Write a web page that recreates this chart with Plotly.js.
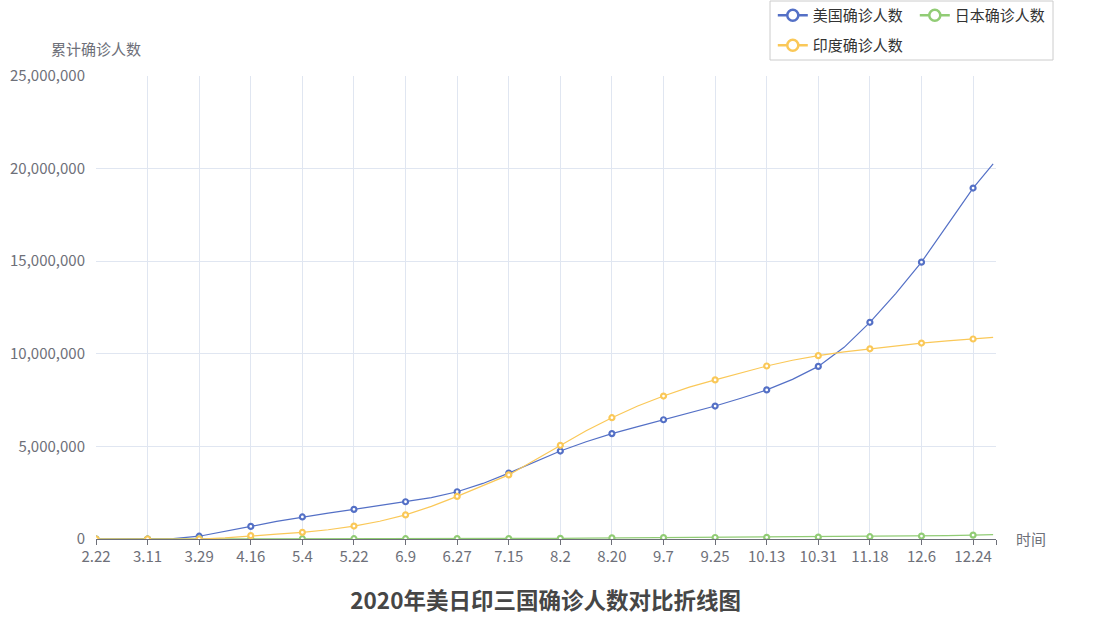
<!DOCTYPE html>
<html><head><meta charset="utf-8">
<script src="https://cdn.plot.ly/plotly-3.0.1.min.js"></script>
<style>html,body{margin:0;padding:0;background:#fff}#chart{width:1109px;height:632px}</style>
</head><body><div id="chart"></div>
<script>
// Sample dates (every 9 days, month.day in 2020)
const dates = ['2.22','3.2','3.11','3.20','3.29','4.7','4.16','4.25','5.4','5.13','5.22','5.31','6.9','6.18','6.27','7.6','7.15','7.24','8.2','8.11','8.20','8.29','9.7','9.16','9.25','10.4','10.13','10.22','10.31','11.9','11.18','11.27','12.6','12.15','12.24','12.31'];
const tickLabels = ['2.22','3.11','3.29','4.16','5.4','5.22','6.9','6.27','7.15','8.2','8.20','9.7','9.25','10.13','10.31','11.18','12.6','12.24'];
const usCases = [35,100,1300,19000,150000,400000,680000,950000,1190000,1400000,1600000,1800000,2010000,2230000,2550000,3000000,3560000,4150000,4750000,5250000,5690000,6070000,6440000,6800000,7180000,7600000,8050000,8620000,9320000,10350000,11700000,13250000,14950000,16950000,18950000,20250000];
const jpCases = [100,250,600,1000,1900,4500,9000,13000,15000,16000,16500,17000,17500,18000,18500,20000,23000,29000,39000,50000,60000,67000,72000,76000,80000,85000,90000,95000,101000,110000,125000,142000,160000,185000,210000,235000];
const inCases = [0,5,60,250,1100,60000,180000,260000,360000,500000,700000,960000,1300000,1760000,2300000,2870000,3460000,4250000,5060000,5850000,6550000,7180000,7720000,8200000,8590000,8980000,9340000,9650000,9900000,10100000,10270000,10440000,10580000,10700000,10800000,10890000];
const seriesNames = ['美国确诊人数','日本确诊人数','印度确诊人数'];
const seriesColors = ['#5470c6','#91cc75','#fac858'];
const seriesValues = [usCases, jpCases, inCases];

function toISO(d){ const p=d.split('.'); return '2020-'+p[0].padStart(2,'0')+'-'+p[1].padStart(2,'0'); }
const xs = dates.map(toISO);
const FONT = '"Noto Sans CJK SC", "Noto Sans", sans-serif';

const traces = [];
seriesValues.forEach((vals, i) => {
  traces.push({type:'scatter', mode:'lines', x:xs, y:vals, showlegend:false, hoverinfo:'skip',
    line:{color:seriesColors[i], width:1.2}});
  const mx = [], my = [];
  dates.forEach((d, k) => { if (tickLabels.includes(d)) { mx.push(xs[k]); my.push(vals[k]); } });
  traces.push({type:'scatter', mode:'markers', x:mx, y:my, showlegend:false, name:seriesNames[i],
    marker:{symbol:'circle', size:5, color:'#fff', line:{color:seriesColors[i], width:2.2}}});
});
seriesValues.forEach((vals, i) => {
  traces.push({type:'scatter', mode:'lines+markers', x:[null], y:[null], name:seriesNames[i],
    legend: i === 2 ? 'legend2' : 'legend', showlegend:true,
    line:{color:seriesColors[i], width:2.5},
    marker:{symbol:'circle', size:11, color:'#fff', line:{color:seriesColors[i], width:2.5}}});
});

const tickvals = tickLabels.map(toISO).concat(['2021-01-01']);
const ticktext = tickLabels.concat(['']);

const legendBase = {orientation:'h', xanchor:'left', yanchor:'top', bgcolor:'rgba(0,0,0,0)', borderwidth:0,
  entrywidth:97, entrywidthmode:'pixels', font:{family:FONT, size:15, color:'#333'}, itemclick:false, itemdoubleclick:false};

const layout = {
  width:1109, height:632,
  margin:{l:96, r:113, t:76, b:93, autoexpand:false},
  paper_bgcolor:'#fff', plot_bgcolor:'#fff',
  font:{family:FONT, size:15, color:'#6e7079'},
  title:{text:'2020年美日印三国确诊人数对比折线图', x:0.492, xref:'container', xanchor:'center', y:1-601/632, yref:'container', yanchor:'middle',
    font:{family:FONT, size:22.5, weight:'bold', color:'#464646'}},
  xaxis:{type:'date', range:['2020-02-22','2021-01-01'], tickmode:'array', tickvals:tickvals, ticktext:ticktext,
    showgrid:true, gridcolor:'#E0E6F1', gridwidth:1, showline:true, linecolor:'#6e7079', linewidth:1,
    ticks:'outside', ticklen:5, tickcolor:'#6e7079', ticklabelstandoff:-1, tickfont:{family:FONT, size:15, color:'#6e7079'}, zeroline:false, fixedrange:true},
  yaxis:{range:[0,25000000], tickmode:'array', tickvals:[0,5000000,10000000,15000000,20000000,25000000],
    tickformat:',d', showgrid:true, gridcolor:'#E0E6F1', gridwidth:1, zeroline:false, showline:false, ticks:'',
    ticklabelstandoff:10, tickfont:{family:FONT, size:15, color:'#6e7079'}, fixedrange:true},
  legend:Object.assign({}, legendBase, {x:0.752, y:(539+1)/463}),
  legend2:Object.assign({}, legendBase, {x:0.752, y:(539-29)/463}),
  shapes:[{type:'rect', xref:'paper', yref:'paper', x0:(770-96)/900, x1:(1053-96)/900, y0:(539-60)/463, y1:(539-1)/463,
    line:{color:'#cccccc', width:1}, fillcolor:'rgba(0,0,0,0)', layer:'below'}],
  annotations:[
    {text:'累计确诊人数', xref:'paper', yref:'paper', x:0, y:(539-48)/463, xanchor:'center', yanchor:'middle', showarrow:false,
      font:{family:FONT, size:15, color:'#6e7079'}},
    {text:'时间', xref:'paper', yref:'paper', x:(1014-96)/900, y:(539-538)/463, xanchor:'left', yanchor:'middle', showarrow:false,
      font:{family:FONT, size:15, color:'#6e7079'}}
  ],
  hovermode:false
};

Plotly.newPlot('chart', traces, layout, {displayModeBar:false, staticPlot:false});
</script>
</body></html>
